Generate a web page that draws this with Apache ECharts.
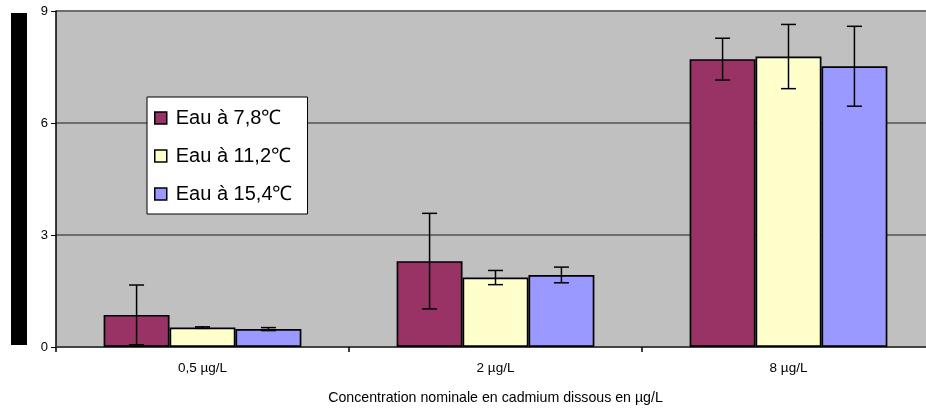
<!DOCTYPE html>
<html>
<head>
<meta charset="utf-8">
<script src="https://cdn.jsdelivr.net/npm/echarts@6/dist/echarts.min.js"></script>
<style>
html,body{margin:0;padding:0;background:#fff;}
#wrap{width:926px;height:410px;overflow:hidden;position:relative;}
#c{width:935px;height:410px;position:absolute;left:0;top:0;}
</style>
</head>
<body>
<div id="wrap"><div id="c"></div></div>
<script>
var categories = ['0,5 µg/L', '2 µg/L', '8 µg/L'];
var seriesNames = ['Eau à 7,8℃', 'Eau à 11,2℃', 'Eau à 15,4℃'];
var values78 = [0.86, 2.30, 7.71];
var values112 = [0.52, 1.86, 7.78];
var values154 = [0.48, 1.93, 7.52];
var err78 = [0.80, 1.28, 0.56];
var err112 = [0.02, 0.19, 0.86];
var err154 = [0.04, 0.21, 1.07];
var yTicks = [0, 3, 6, 9];
var xTitle = 'Concentration nominale en cadmium dissous en µg/L';

var colors = ['#993366', '#FFFFCC', '#9999FF'];
var allValues = [values78, values112, values154];
var allErr = [err78, err112, err154];
var gapFrac = 0.325;

var chart = echarts.init(document.getElementById('c'));
var series = [];
allValues.forEach(function (vals, si) {
  series.push({
    name: seriesNames[si],
    type: 'bar',
    data: vals,
    barGap: '0%',
    barCategoryGap: (gapFrac * 100) + '%',
    itemStyle: { color: colors[si], borderColor: '#000', borderWidth: 1.7 },
    emphasis: { disabled: true },
    z: 2
  });
});
allValues.forEach(function (vals, si) {
  var errData = vals.map(function (v, i) { return [i, v, allErr[si][i]]; });
  series.push({
    type: 'custom',
    data: errData,
    z: 5,
    silent: true,
    renderItem: function (params, api) {
      var ci = api.value(0), v = api.value(1), e = api.value(2);
      var band = api.size([1, 0])[0];
      var bw = band * (1 - gapFrac) / 3;
      var center = api.coord([ci, v]);
      var x = center[0] + (si - 1) * bw;
      var yTop = api.coord([ci, v + e])[1];
      var yBot = api.coord([ci, Math.max(0, v - e)])[1];
      var cap = 7.5;
      var st = { stroke: '#000', lineWidth: 1.5 };
      return {
        type: 'group',
        children: [
          { type: 'line', shape: { x1: x, y1: yTop, x2: x, y2: yBot }, style: st },
          { type: 'line', shape: { x1: x - cap, y1: yTop, x2: x + cap, y2: yTop }, style: st },
          { type: 'line', shape: { x1: x - cap, y1: yBot, x2: x + cap, y2: yBot }, style: st }
        ]
      };
    }
  });
});

chart.setOption({
  animation: false,
  textStyle: { fontFamily: 'Liberation Sans, Arial, sans-serif' },
  graphic: [
    { type: 'rect', shape: { x: 11, y: 13, width: 16, height: 332 }, style: { fill: '#000' }, silent: true }
  ],
  grid: { left: 56, top: 11, right: 0, height: 338, backgroundColor: '#C0C0C0', show: true, borderWidth: 0 },
  legend: {
    orient: 'vertical',
    left: 147, top: 97,
    padding: [11, 15, 10, 7],
    itemWidth: 12, itemHeight: 12,
    itemGap: 18,
    icon: 'rect',
    backgroundColor: '#fff',
    borderColor: '#000',
    borderWidth: 1,
    selectedMode: false,
    data: seriesNames,
    textStyle: { fontSize: 20, color: '#000', fontFamily: 'Liberation Sans, Arial, sans-serif', padding: [0, 0, 0, 4] },
    itemStyle: { borderColor: '#000', borderWidth: 1.5 }
  },
  xAxis: {
    type: 'category',
    data: categories,
    name: xTitle,
    nameLocation: 'middle',
    nameGap: 44,
    nameTextStyle: { fontSize: 14.2, color: '#000' },
    axisLine: { lineStyle: { color: '#444', width: 2 } },
    axisTick: { show: true, length: 5, lineStyle: { color: '#000', width: 1.5 } },
    axisLabel: { fontSize: 13.5, color: '#000', margin: 14 },
    splitLine: { show: false }
  },
  yAxis: {
    type: 'value',
    min: 0, max: 9, interval: 3,
    axisLine: { show: true, lineStyle: { color: '#000', width: 1.5 } },
    axisTick: { show: true, length: 5, lineStyle: { color: '#000' } },
    axisLabel: { fontSize: 13, color: '#000', margin: 8,
      formatter: function (v) { return yTicks.indexOf(v) >= 0 ? String(v) : ''; } },
    splitLine: { show: true, lineStyle: { color: '#6e6e6e', width: 2 } }
  },
  series: series
});
</script>
</body>
</html>
